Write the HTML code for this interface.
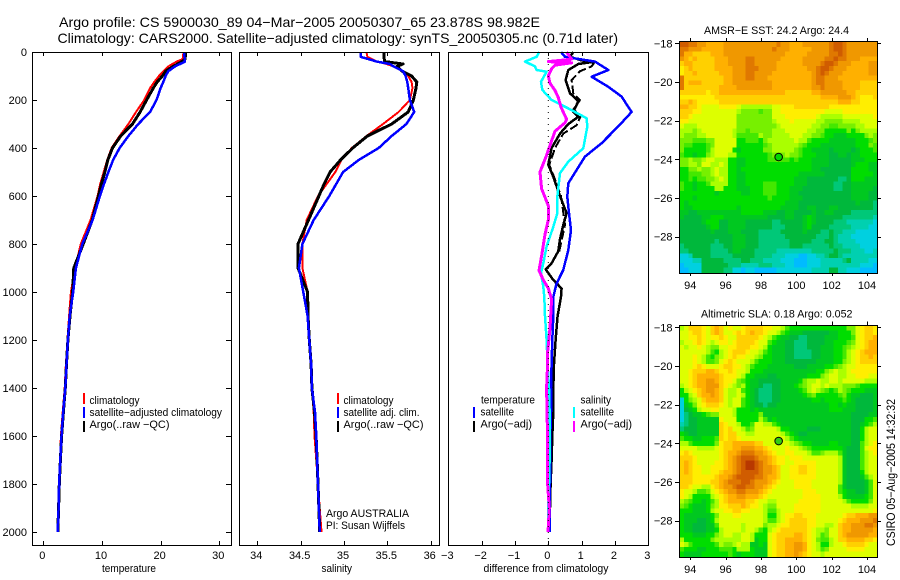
<!DOCTYPE html>
<html><head><meta charset="utf-8"><title>Argo profile</title>
<style>
html,body{margin:0;padding:0;background:#fff}
svg{display:block}
text{font-family:"Liberation Sans",sans-serif;fill:#000;font-size:11px}
</style></head>
<body>
<svg id="fig" width="900" height="580" viewBox="0 0 900 580" xmlns="http://www.w3.org/2000/svg">
<rect width="900" height="580" fill="#fff"/>
<text x="59" y="27" font-size="14" style="font-size:14px" textLength="481" lengthAdjust="spacingAndGlyphs">Argo profile: CS 5900030_89 04−Mar−2005 20050307_65 23.878S 98.982E</text>
<text x="57.5" y="43" style="font-size:14px" textLength="560.5" lengthAdjust="spacingAndGlyphs">Climatology: CARS2000. Satellite−adjusted climatology: synTS_20050305.nc (0.71d later)</text>
<text x="102" y="572" textLength="54" lengthAdjust="spacingAndGlyphs">temperature</text>
<text x="321.5" y="572" textLength="30.5" lengthAdjust="spacingAndGlyphs">salinity</text>
<text x="483.5" y="572" textLength="125" lengthAdjust="spacingAndGlyphs">difference from climatology</text>
<text x="704" y="34" textLength="145" lengthAdjust="spacingAndGlyphs">AMSR−E SST: 24.2 Argo: 24.4</text>
<text x="701" y="317.5" textLength="151.5" lengthAdjust="spacingAndGlyphs">Altimetric SLA: 0.18 Argo: 0.052</text>
<text transform="translate(895,546) rotate(-90)" style="font-size:12px" textLength="147" lengthAdjust="spacingAndGlyphs">CSIRO 05−Aug−2005 14:32:32</text>
<g id="maps"></g>
<g id="panels"></g>
<g id="axes"></g>
<g>
<rect x="83" y="393" width="2" height="11" fill="#f00"/>
<rect x="83" y="407" width="2" height="11" fill="#00f"/>
<rect x="83" y="421" width="2" height="11" fill="#000"/>
<text x="89.5" y="404" textLength="50" lengthAdjust="spacingAndGlyphs">climatology</text>
<text x="89.5" y="416" textLength="132.5" lengthAdjust="spacingAndGlyphs">satellite−adjusted climatology</text>
<text x="89.5" y="428" textLength="80" lengthAdjust="spacingAndGlyphs">Argo(..raw −QC)</text>
</g>
<g>
<rect x="337" y="393" width="2" height="11" fill="#f00"/>
<rect x="337" y="407" width="2" height="11" fill="#00f"/>
<rect x="337" y="421" width="2" height="11" fill="#000"/>
<text x="343.5" y="404" textLength="50" lengthAdjust="spacingAndGlyphs">climatology</text>
<text x="343.5" y="416" textLength="76" lengthAdjust="spacingAndGlyphs">satellite adj. clim.</text>
<text x="343.5" y="428" textLength="80" lengthAdjust="spacingAndGlyphs">Argo(..raw −QC)</text>
<text x="326" y="517" textLength="83" lengthAdjust="spacingAndGlyphs">Argo AUSTRALIA</text>
<text x="326" y="529" textLength="79" lengthAdjust="spacingAndGlyphs">PI: Susan Wijffels</text>
</g>
<g>
<text x="481" y="403.5" textLength="54" lengthAdjust="spacingAndGlyphs">temperature</text>
<text x="480.5" y="415.5" textLength="33.5" lengthAdjust="spacingAndGlyphs">satellite</text>
<text x="480.5" y="427.5" textLength="51.5" lengthAdjust="spacingAndGlyphs">Argo(−adj)</text>
<rect x="473" y="407" width="2" height="11" fill="#00f"/>
<rect x="473" y="421" width="2" height="11" fill="#000"/>
<text x="580.5" y="403.5" textLength="30.5" lengthAdjust="spacingAndGlyphs">salinity</text>
<text x="580.5" y="415.5" textLength="33.5" lengthAdjust="spacingAndGlyphs">satellite</text>
<text x="580.5" y="427.5" textLength="51.5" lengthAdjust="spacingAndGlyphs">Argo(−adj)</text>
<rect x="573" y="407" width="2" height="11" fill="#0ff"/>
<rect x="573" y="421" width="2" height="11" fill="#f0f"/>
</g>
</svg>
<script>
// ---- temperature panel data ----
const depthTemp = [0,30,40,60,80,100,125,150,200,250,300,350,400,450,500,550,600,700,800,900,1000,1100,1200,1300,1400,1500,1600,1700,1800,1900,2000];
const tempClim = [23.9,23.75,22.7,21.3,20.45,19.7,18.9,18.2,17.2,15.8,14.5,13,11.65,10.9,10.3,9.7,9.25,8.05,6.4,5.4,4.7,4.4,4.1,3.85,3.65,3.3,3.0,2.85,2.65,2.55,2.4];
const tempArgo = [24.3,24.15,23.6,22.15,20.85,20.3,19.4,18.75,17.6,16.5,15.2,13.2,11.8,11,10.5,9.9,9.4,8.35,6.8,5.2,5.0,4.55,4.2,3.95,3.75,3.42,3.12,2.92,2.72,2.6,2.47];
const tempSat = [24,24.1,24.15,22.45,21.3,20.85,20.45,20,19.3,18.2,16.2,14.5,13,11.9,11.1,10.35,9.65,8.4,6.65,5.55,5.1,4.5,4.2,3.95,3.75,3.4,3.1,2.9,2.7,2.6,2.45];
// ---- salinity panel data ----
const depthSal = [0,20,40,50,60,80,100,125,150,200,250,300,350,400,450,500,550,600,700,800,900,1000,1100,1200,1300,1400,1500,1600,1700,1800,1900,2000];
const salClim = [35.26,35.27,35.38,35.49,35.57,35.68,35.74,35.78,35.79,35.76,35.63,35.45,35.26,35.09,34.97,34.9,34.8,34.7,34.57,34.52,34.52,34.58,34.58,34.6,34.62,34.63,34.65,34.66,34.68,34.70,34.72,34.74];
const salArgo = [35.46,35.46,35.47,35.68,35.61,35.67,35.78,35.84,35.83,35.8,35.74,35.55,35.27,35.1,34.96,34.84,34.77,34.71,34.59,34.47,34.47,34.58,34.585,34.6,34.62,34.63,34.66,34.678,34.69,34.70,34.71,34.72];
const salSat = [35.19,35.19,35.38,35.53,35.57,35.68,35.71,35.73,35.74,35.76,35.81,35.72,35.55,35.4,35.17,34.99,34.91,34.83,34.65,34.52,34.48,34.53,34.58,34.6,34.62,34.63,34.665,34.68,34.69,34.70,34.71,34.72];
// ---- difference panel data ----
const depthDiffTempSat = [0,20,40,75,103,145,186,250,310,380,436,547,603,672,742,825,908,964,1020,1100,1200,1300,1400,1500,1600,1700,1800,1900,2000];
const diffTempSat = [.38,.5,1.4,1.8,1.3,1.8,2.2,2.5,2.1,1.6,1.1,.6,.57,.62,.68,.6,.45,.25,.15,.15,.12,.1,.08,.08,.06,.06,.05,.04,.04];
const depthDiffTempArgo = [0,20,35,40,50,75,117,172,205,250,270,300,340,400,470,520,600,672,720,780,830,880,905,950,985,1020,1100,1200,1300,1400,1500,1600,1700,1800,1900,2000];
const diffTempArgo = [.75,.65,1.0,1.4,.9,.6,.52,.65,.9,.75,.9,.6,.35,.1,0,.15,.35,.55,.45,.35,.3,.1,-.08,.15,.4,.38,.28,.22,.17,.15,.15,.12,.1,.07,.05,.03];
const depthDiffTempRaw = [40,60,80,117,172,200,240,265,305,340,400,470,520,600,720,830];
const diffTempRaw = [1.4,1.3,.95,.7,.75,.95,.75,.98,.85,.45,.2,.03,.17,.38,.5,.33];
const depthDiffSalSat = [0,20,40,60,75,82,124,158,200,235,276,311,401,457,505,603,672,728,811,880,922,978,1020,1100,1200,1300,1400,1500,1600,1700,1800,1900,2000];
const diffSalSat = [-.27,-.35,-.7,-.4,-.35,-.05,-.22,-.18,.1,.6,1.15,1.17,1.05,.6,.35,.27,.27,.15,-.05,-.15,-.22,-.15,-.12,-.1,-.05,-.02,.02,.04,.05,.04,.02,0,-.01];
const depthDiffSalArgo = [0,30,40,45,55,70,100,130,160,190,230,280,295,330,370,430,500,570,640,700,760,850,910,950,985,1030,1150,1250,1300,1400,1500,1600,1700,1800,1900,2000];
const diffSalArgo = [.55,.7,0,.7,.2,.1,0,.05,.2,.3,.38,.55,.5,.2,.1,-.05,-.25,-.2,0,0,-.1,-.2,-.28,-.15,0,.1,.05,-.02,-.02,-.05,-.04,-.02,-.02,-.02,.03,-.01];
// ---- tick labels ----
const depthTicks = [0,200,400,600,800,1000,1200,1400,1600,1800,2000];
const tempTicks = [0,10,20,30];
const salTicks = [34,34.5,35,35.5,36];
const diffTicks = [-3,-2,-1,0,1,2,3];
const lonTicks = [94,96,98,100,102,104];
const latTicks = [-18,-20,-22,-24,-26,-28];
// ---- float position ----
const floatLon = 99;
const floatLat = -23.88;
// ---- heatmap colour levels ----
const levelColors = ['#00bbff','#00d0e0','#00d0b0','#00c878','#00b83c','#00c820','#00dd00','#44e800','#77f000','#aaff00','#ddff00','#ffee00','#ffd000','#ffb000','#f09800','#e07800','#d05c00','#b83800'];
const levelKeys = 'abcdefghijklmnopqr';
// ---- SST cells, one letter per 0.25 degree cell, north to south ----
const sstRows = [
'qqppo onnnn ooooo ooooo oopoo nnnoo oooop qqpoo ooooo',
'ppooo nnnnn ooooo ooooo opooo nnnnn oooop qqpoo ooooo',
'pnnmm mmnnn ooooo ooooo oooon nnnno oooop pqpoo ooooo',
'onmnm mmmnn noooo ppooo ooonn nnnoo ooopp qppoo onnnn',
'mnnmm mmmnn noooo ppooo oonnn nnnoo oopqq pooon nnnoo',
'lmnmm mmmnn nnooo pppoo oonnn nnnno opqqp ooonn nnnoo',
'lmmnm mmmmn nnooo ppooo onnnn nnnnn opqpo oonnn nnnoo',
'pmmmm mmmmm nnooo ppooo nnnnn nnnnn oppoo onnnn nnnnn',
'pmnnn mmmmm nnooo ooooo onnnn nnnnn oppoo oonnn nmmmm',
'pmmmm mmmmn nnnoo ooooo onnnn nnnnn oopoo oonnn nmmmm',
'mmmmm mlmmn nnnnn nnnnn nnnnm mmmmm nnooo ooonn mmmmm',
'lllll lllmm mmmmm mmmmm mmmmm mmmmm mmnnn nooon mlllm',
'mmnml llllm mmmmm mmmmm mmmmm mmmmm mmmmm mnnnm mllll',
'nnmml kkkkl lllkj jjjjj jkkll lmmmm mmmml lllll lllll',
'mmmll kkkkk kkkji iiihi ikkll lllll lllkk kklll lllll',
'mmlkk kkkkk kkkii iiiii ikkkl lllll lkjjj jjkkk kkkkl',
'llkkk kkkkk kkkii iiiii ijkkk lkkkk kjjii iijjj jkkkk',
'kjjjk kkkkk kkkii iiiii iijkk kkkkk jjiih hiiii jjkkk',
'jjjij kkkkk kkjii hiiii ijjjk kkkkj jiigg gggig ijjjj',
'jiiij jkkkk kkjhh hhhji ijjjj kkkjj iihgg fffgg ggiji',
'iiihh hiikk kkkgg hhhgi jjjjj jkjjh ggggf fffff ggghi',
'ihhgg ghikk kkkgg ggggh ijjjj jjihg ggfff fffff gggih',
'igggg ghjkk kkgfg ggggi ijjjj jihgg ffffe ffffe fgggh',
'hggfg gijkk kjjgg ggggg hiiij iihgg gfffe effef fgggg',
'iijii jkkjj jggff ggggg hhihh ghggg ffffe eeeef ffggg',
'iijji kkjjk jggff ggggg ggggg ggggg ffffe eeeef gggff',
'ggiij iijkj jggfg ggggg ggggg ggggg ffeee eeeeg gggff',
'gghhh iijkj jggff ggggg ggggg ggfff fffee eeeeg ggggf',
'gghgh hiijk jggff ggggg ggggg gfffe eeeee eddeg ggfff',
'hggfg ghjjj jggff ggggh hhggg gfffe eeeee ddeef fffff',
'hggfg gggjj gggff fgggh hhggg fffee eeeee ddeef ffffe',
'ggggg gggfg ggggf fgggh hhggg ffeee eeeee eeeef fffee',
'gggfg ggggg ggggg ggggg hgggg fffee eeeee eeeef fffee',
'gfggg ggggg ggggg ggggg ggggf ffeee eeeee eeeee feeed',
'gffgg ggggg gggfg ggggg gggff ffeef feeef feeee eeeed',
'ffeef fffff ffffg ggggf ffeef feeee feeff eeeed ddddd',
'feeee ffggg fffff fffff eeeef feefg feeee eeddd ddddc',
'eeeee fggge effff eeeee eddee eeefg feeee dddcc ccccb',
'eeeee efgge effff eeeee eddde eeefg eeeed ddddc cccbb',
'eeeee eefee efffe eeedd dddee eeefe eedde ddccc bbbbb',
'eeeee eeeee eefff eeedd dddde eeeee eddde dcccb bbbbb',
'eeeee eeede eefff eeedd ddddd eeeee dddee dcccc bbbbb',
'deeee eeddd eefff eeedd ddddd eeedd dddde ddccc cbbbb',
'ddeee eeddd deffe eeddd ddccc ccccc ddddd edddc ccbbc',
'bbcee eeddd ddeee eeddd dcccb bbaab bccde edccc ccccc',
'bbbcc eeeee dddde edddc cccbb baaab bbccc ccdec cccbb',
'abbbb eeeee edddc cccdd dcccb baaab bbccc ccccc cbbba',
'aabbb eeeee ddbba bbaaa aabbb bbbbb cccce eccbb baaaa'
];
// ---- SLA cells, one letter per 0.25 degree cell, north to south ----
const slaRows = [
'jkmmm lkmnm klkkl mmmml lkkjh ggggg ggggg gggii klmml kllkg',
'kklmm lkmnm kklml mnmml kkjhg fffee eeeef fgggi klmml kllkh',
'kkllm lkllm lkkmm mmmlk jhgff eedde eeeff fgggh klmmn mlkki',
'jkklm lkjkl lklmm mmlkk hgffe eddde eeeff ggghi klmnn mlkkj',
'kjkkl kjiik kllmm mllkj gfffe eddde eefff gghij klmnn mlkkj',
'kkkkk kjhgj klmmm lkkjh gfffe edddd eefff gghjk lmnnn mlkkk',
'kkklk jhgij klmll kkjig gfffe edddd eefff gghjk lmmnm lkkkk',
'kkklk jhhik lmlkk kjhgg gfffe eeeee effff ggijk lmmmm lkkkk',
'kkklm lkkkl mmllk jhggg fffff feeef fffgg hijkk lllll lkkkl',
'kklmm mnnml lmlkk jgggf fffff fffff fggij kjjkl lllll kkkll',
'kklmn nnnnm lllkj ggfff eefff ffffg ggijk kjjkk lllkk kkkll',
'kklmn noonm llkih gffee eeeff ffgij jkjjk kjkkk kkjjj jkkkk',
'jklmn nooom lkjij gffed deeff fghij kkjkj jjiii hgggg hjkkk',
'gjklm noonm kjjkh gfedd deeff ffghj kjihg hjihg ggfff ggjkk',
'ggjkm nnonm kjjkj gfedd deeff fffgh igggg ghigf feeef fgjkk',
'bgijk mnnnm kjkkh gfedd deeff fffff ggfgg gghgf eeeef ffhjk',
'bfgik lmmml kjkkh gfeed eefff fffff ffffg gfgff eeeef fghjk',
'befgj kkllk kkjgg gfgff fffff fffff ffffg ggfff eeeef fghjk',
'bdeff ghiik kkjgg gggif fffff fffff fffff ffffe eeeff hjjkk',
'bdeef ffffl kkkgg gggjh fgfff fffff fffff ffffe eeggh jkkkk',
'cdeef ffffm lkkjg ghkkj jhgff fffff fffff ffffe efghj kkkkk',
'deeef ffffm lmkkj hikkk kkjgg ffffe eefff ffffe egjkk kkkkl',
'gfeef ffffm lmmkk jjkkk kkkjh gfeef fffff ffffe egjkk kklll',
'hggff ggghm lmmlk kkkkk kkkkj hgfff fffff ffffe egjkk kllmm',
'jjhgg gggil mmnnn nnmmk kkkkk jihgg ffffg gfffe ehjkl lmmnn',
'kkkkj jjjkl mmnno oonnm lkkkl kkjih ggggg ggfee ehkll lmmnn',
'lmlkk kkkkl mnnop ppoon mlkkl lkkkj hhijj jhfee ehjkl lmnnn',
'mmmlk kkkkl mnopq qqpoo nmllk lllkk kkkkk kjfee ehjkk lmnon',
'mnmlk kkkll mnopq rrqpo nmllk kllll lkkkk kjfee ehjkk lmnon',
'mnmll kklll mnopq rrqpo onmkk llmml lkkkk kjfee ehjkk lmmnn',
'mnmll kkllm nnopq qqqpo onmkk llmml lkkkk kjfee egjkk llmmm',
'mmmll lllmn nopqq qqppo nnmkk lllll lkkkk kjfee efhjk kllll',
'mmmll llmmn opppq qpooo nmlkk kllll kkkkk kjfee eefhk kkkkk',
'mmlkk jjlmn oopqq ppoon mlkkk kllll kkkkk khfee eefhk kkkkk',
'lkkjh hiklm noopp ooonm lkkkk kkkll lkkkk khgff eefhk kkkkk',
'lkjgg ggjkl mnnoo nnnml kkkkk kkkll llkkk kjgff ffghk kkkkk',
'jihgg fghjl mnnnn mmlkk jjkkk kklll llkkk kkjhg gggik kkkkk',
'ihgff fgijl lmmmn mllkj iikkk kllll llkkk kkkkj jjjkk lllll',
'gggff fgjkk llmml lkkkj hhjkk kllll llkkk kkkkk kkkkl mmnnm',
'gffff ffgik kkllk kkkkj ggjkl lmmll lkkkk kklmm nnnoo oooon',
'gfffe efgjk kkkkk kkkkj hhjkl mmmml lkkkk klmnn nooop oooon',
'gffee effhk kkkkj kkkki jjkll mmmml lkkjj kmnno ooppo oonml',
'gffee effgj kkkkj kkjhg jklmm mmmml kjjik kmnno oooon nnmll',
'gggff fggij kkjjk kjggg klmmm mnnml kjhik kmnoo ooonn nmlkk',
'jgggg ggijj jjjjk kjfgg klmmn nnnml kihhj kmmnn nnmml kkjjk',
'kjhgg ggghj iijkj jffgf klmmn noonl kjggj kklmm mmlkk kjjhf',
'hgggf fgggh hhgjj jgfff klmmn noonl kjhik kkkll llkkk kihff',
'gffff ggggg ghgfg ggfff klmmn nonml kkjkk kkkkk kkkkk kjgff'
];

const NS = 'http://www.w3.org/2000/svg';
const panels = document.getElementById('panels');
const axes = document.getElementById('axes');
const maps = document.getElementById('maps');
function mk(tag, parent, attrs){
  const el = document.createElementNS(NS, tag);
  for(const k in attrs) el.setAttribute(k, attrs[k]);
  parent.appendChild(el);
  return el;
}
function scale(d0, d1, r0, r1){ return v => r0 + (v - d0) * (r1 - r0) / (d1 - d0); }
const yDepth = scale(0, 2000, 52, 532);
const xTemp = scale(0, 30, 43.3, 219.3);
const xSal = scale(34, 36, 257.3, 430.7);
const xDiff = scale(-3, 3, 448.3, 648.3);
const xLon = scale(94, 104, 690.3, 867);
const yLat1 = scale(-18, -28, 43.3, 236.7);
const yLat2 = scale(-18, -28, 327.3, 520.7);

function drawLine(values, depths, xf, color, width, name, dash){
  const pts = values.map((v, i) => xf(v).toFixed(1) + ',' + yDepth(depths[i]).toFixed(1)).join(' ');
  const line = mk('polyline', panels, {points: pts, fill: 'none', stroke: color, 'stroke-width': width, 'stroke-linejoin': 'round'});
  line.setAttribute('shape-rendering', 'crispEdges');
  if(dash) line.setAttribute('stroke-dasharray', dash);
  
  
}
drawLine(tempClim, depthTemp, xTemp, '#f00', 2, 'temperature-climatology-line');
drawLine(tempArgo, depthTemp, xTemp, '#000', 3, 'temperature-argo-line');
drawLine(tempSat, depthTemp, xTemp, '#00f', 2.5, 'temperature-satellite-line');
drawLine(salClim, depthSal, xSal, '#f00', 2, 'salinity-climatology-line');
drawLine(salArgo, depthSal, xSal, '#000', 3, 'salinity-argo-line');
drawLine(salSat, depthSal, xSal, '#00f', 2.5, 'salinity-satellite-line');
drawLine(diffTempRaw, depthDiffTempRaw, xDiff, '#000', 2, 'diff-temp-raw-line', '9 3');
drawLine(diffTempArgo, depthDiffTempArgo, xDiff, '#000', 2.5, 'diff-temp-argo-line');
drawLine(diffTempSat, depthDiffTempSat, xDiff, '#00f', 2.5, 'diff-temp-satellite-line');
drawLine(diffSalSat, depthDiffSalSat, xDiff, '#0ff', 2.5, 'diff-sal-satellite-line');
drawLine(diffSalArgo, depthDiffSalArgo, xDiff, '#f0f', 3, 'diff-sal-argo-line');

function tickLine(x1, y1, x2, y2, name){
  const t = mk('line', axes, {x1: x1, y1: y1, x2: x2, y2: y2, stroke: '#000', 'stroke-width': 1});
  t.setAttribute('shape-rendering', 'crispEdges');
  
  
}
function label(x, y, str, anchor, name){
  const t = mk('text', axes, {x: x, y: y, 'text-anchor': anchor});
  t.textContent = str;
  
  
}
function frame(x, y, w, h, name){
  const r = mk('rect', axes, {x: x + .5, y: y + .5, width: w, height: h, fill: 'none', stroke: '#000', 'stroke-width': 1});
  r.setAttribute('shape-rendering', 'crispEdges');
  
  
}
function fmt(v){ return String(v).replace('-', '\u2212'); }

const zero = mk('line', axes, {x1: xDiff(0), y1: 52, x2: xDiff(0), y2: 545, stroke: '#000', 'stroke-width': 1, 'stroke-dasharray': '1 5'});



function profileAxis(x, w, xf, ticks, name){
  frame(x, 52, w, 493, name + '-frame');
  ticks.forEach(v => {
    const px = Math.round(xf(v)) + .5;
    tickLine(px, 52, px, 56, name + '-top-tick');
    tickLine(px, 545, px, 541, name + '-bottom-tick');
    label(xf(v) - 1, 559, fmt(v), 'middle', name + '-tick-label');
  });
}
profileAxis(32, 199, xTemp, tempTicks, 'temperature-axis');
profileAxis(239, 200, xSal, salTicks, 'salinity-axis');
profileAxis(448, 200, xDiff, diffTicks, 'difference-axis');
depthTicks.forEach(d => {
  const py = Math.round(yDepth(d)) + .5;
  tickLine(32, py, 37, py, 'depth-left-tick');
  tickLine(231, py, 226, py, 'depth-right-tick');
  label(27, yDepth(d) + 4, String(d), 'end', 'depth-tick-label');
});

function drawMap(rows, top, height, yf, mapName, markerFill){
  const left = 679.5, width = 198, nCols = 45;
  const cw = width / nCols, ch = height / rows.length;
  const g = mk('g', maps, {});
  
  
  rows.forEach((row, r) => {
    const s = row.replace(/ /g, '');
    for(let c = 0; c < nCols; c++){
      const key = s[Math.min(c, s.length - 1)];
      const cell = mk('rect', g, {x: (left + c * cw).toFixed(2), y: (top + r * ch).toFixed(2), width: (cw + .3).toFixed(2), height: (ch + .3).toFixed(2), fill: levelColors[levelKeys.indexOf(key)]});
      cell.setAttribute('shape-rendering', 'crispEdges');
      
      
    }
  });
  frame(679, Math.round(top) - 1, 198, Math.round(height) + 1, mapName + '-frame');
  const bottom = Math.round(top + height);
  lonTicks.forEach(v => {
    const px = Math.round(xLon(v)) + .5;
    tickLine(px, top - 4, px, top, mapName + '-top-tick');
    tickLine(px, bottom, px, bottom + 3, mapName + '-bottom-tick');
    label(xLon(v), bottom + 16, String(v), 'middle', mapName + '-lon-label');
  });
  latTicks.forEach(v => {
    const py = Math.round(yf(v)) + .5;
    tickLine(675, py, 679, py, mapName + '-left-tick');
    tickLine(878, py, 881, py, mapName + '-right-tick');
    label(672.5, yf(v) + 4, fmt(v), 'end', mapName + '-lat-label');
  });
  const m = mk('circle', axes, {cx: xLon(floatLon), cy: yf(floatLat), r: 3.8, fill: markerFill, stroke: '#000', 'stroke-width': 1});
  
  
}
drawMap(sstRows, 42, 230.5, yLat1, 'sst-map', '#00d800');
drawMap(slaRows, 325.5, 231, yLat2, 'sla-map', '#33cc11');
</script>
</body></html>
